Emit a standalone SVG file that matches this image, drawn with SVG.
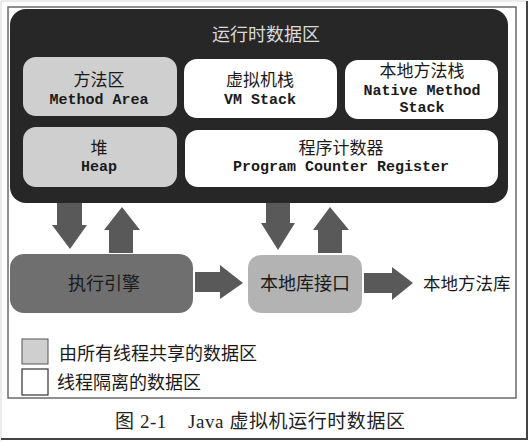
<svg xmlns="http://www.w3.org/2000/svg" width="531" height="443" viewBox="0 0 531 443">
<style>
.cn{font-family:"Liberation Sans","Noto Sans CJK SC",sans-serif;font-size:17px;fill:#1a1a1a;text-anchor:middle;dominant-baseline:central}
.mono{font-family:"Liberation Mono","DejaVu Sans Mono",monospace;font-size:15px;font-weight:bold;fill:#1a1a1a;text-anchor:middle;dominant-baseline:central}
.shared{fill:#cfcfcf}
.private{fill:#ffffff}
.arrow{fill:#595959}
.lg{font-family:"Liberation Sans","Noto Sans CJK SC",sans-serif;font-size:18px;fill:#1a1a1a;dominant-baseline:central}
.cap{font-family:"Liberation Serif","Noto Sans CJK SC",serif;font-size:19px;fill:#222;dominant-baseline:central}
</style>
<rect x="0" y="0" width="531" height="443" fill="#ffffff"/>
<path d="M1 441 V1 H527" fill="none" stroke="#d8d8d8" stroke-width="1"/>
<path d="M527 1 V439 H1" fill="none" stroke="#444" stroke-width="2"/>
<rect id="frame" x="8" y="7" width="508" height="391" fill="#ffffff" stroke="#6a6a6a" stroke-width="1.5"/>

<g id="runtime-data-area">
<rect x="10" y="9" width="498" height="194" rx="16" fill="#272727"/>
<text x="266" y="35" class="cn" style="fill:#d9d9d9;font-size:18px">运行时数据区</text>
</g>
<g id="method-area">
<rect x="23" y="57" width="154" height="59" rx="13" class="shared"/>
<text x="99" y="80" class="cn">方法区</text>
<text x="99" y="100" class="mono">Method Area</text>
</g>
<g id="vm-stack">
<rect x="184" y="59" width="153" height="59" rx="13" class="private"/>
<text x="260" y="80" class="cn">虚拟机栈</text>
<text x="260" y="100" class="mono">VM Stack</text>
</g>
<g id="native-method-stack">
<rect x="345" y="60" width="153" height="59" rx="13" class="private"/>
<text x="422" y="71" class="cn">本地方法栈</text>
<text x="422" y="91" class="mono">Native Method</text>
<text x="422" y="108" class="mono">Stack</text>
</g>
<g id="heap">
<rect x="23" y="127" width="154" height="60" rx="13" class="shared"/>
<text x="99" y="148" class="cn">堆</text>
<text x="99" y="167" class="mono">Heap</text>
</g>
<g id="program-counter">
<rect x="185" y="130" width="313" height="57" rx="13" class="private"/>
<text x="341" y="148" class="cn">程序计数器</text>
<text x="341" y="167" class="mono">Program Counter Register</text>
</g>

<g id="execution-engine">
<rect x="10" y="254" width="183" height="59" rx="14" fill="#6f6f6f"/>
<text x="104" y="284" class="cn" style="font-size:18px">执行引擎</text>
</g>
<g id="native-interface">
<rect x="248" y="255" width="114" height="58" rx="13" fill="#b3b3b3"/>
<text x="305" y="284" class="cn" style="font-size:18px">本地库接口</text>
</g>
<g id="native-library">
<text x="423" y="284" class="lg" style="font-size:17.5px">本地方法库</text>
</g>

<g id="connectors">
<polygon class="arrow" points="57,203 82,203 82,225 87,225 70,249 52,225 57,225"/>
<polygon class="arrow" points="109,253 133,253 133,230 140,230 122,207 104,230 109,230"/>
<polygon class="arrow" points="266,203 290,203 290,223 295,223 278,250 261,223 266,223"/>
<polygon class="arrow" points="318,253 342,253 342,230 349,230 330,207 313,230 318,230"/>
<polygon class="arrow" points="195,272 220,272 220,265 243,283 220,299 220,292 195,292"/>
<polygon class="arrow" points="364,273 392,273 392,267 413,283 392,300 392,293 364,293"/>
</g>

<g id="legend">
<rect x="22" y="339" width="26" height="25" class="shared" stroke="#555" stroke-width="1"/>
<text x="59" y="354" class="lg">由所有线程共享的数据区</text>
<rect x="22" y="369" width="26" height="26" class="private" stroke="#333" stroke-width="1.2"/>
<text x="57" y="383" class="lg">线程隔离的数据区</text>
</g>

<text id="caption" x="115" y="421" class="cap" xml:space="preserve" textLength="290" lengthAdjust="spacing">图 2-1    Java 虚拟机运行时数据区</text>
</svg>
